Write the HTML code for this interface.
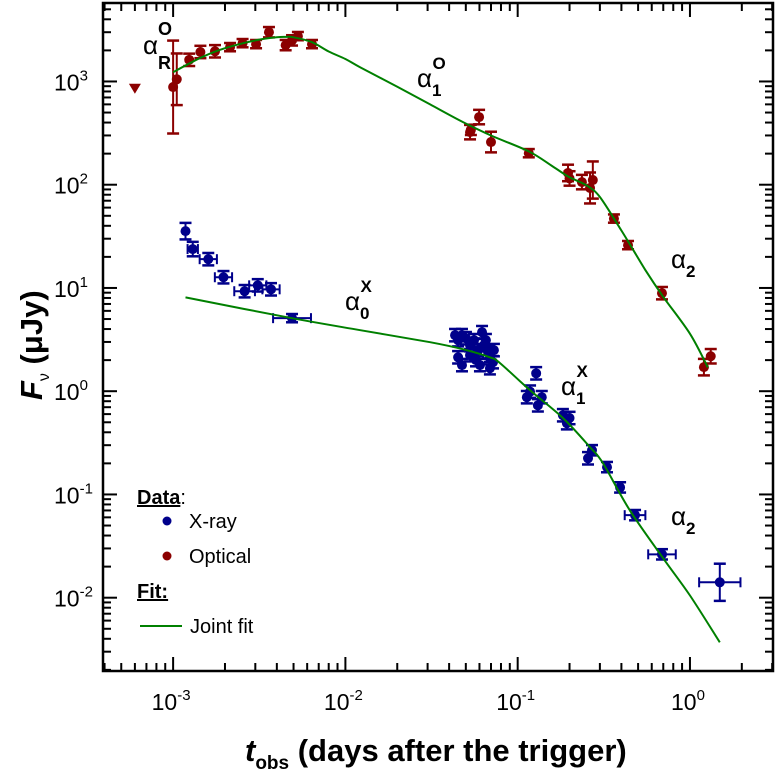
<!DOCTYPE html>
<html><head><meta charset="utf-8">
<style>
html,body{margin:0;padding:0;background:#fff;}
svg{display:block;font-family:"Liberation Sans",Arial,sans-serif;}
.nar{font-family:"Liberation Sans Narrow","Liberation Sans",Arial,sans-serif;}
</style></head>
<body>
<svg id="chart" width="775" height="778" viewBox="0 0 775 778" xmlns="http://www.w3.org/2000/svg"></svg>
<script>
// ---- data ----
const optT = [0.0010,0.00105,0.00124,0.00144,0.00175,0.00214,0.00253,0.00303,0.0036,0.0045,0.0049,0.0053,0.0064,0.0529,0.0535,0.0597,0.0700,0.116,0.196,0.200,0.236,0.273,0.263,0.362,0.437,0.688,1.205,1.32];
const optF = [883,1050,1620,1930,1960,2150,2350,2300,3000,2250,2500,2750,2300,323,340,452,259,202,130,115,106,111,93,47,26,8.9,1.71,2.18];
const optErr = [0.45,0.25,0.06,0.06,0.06,0.04,0.04,0.04,0.05,0.05,0.05,0.04,0.04,0.07,0.05,0.07,0.1,0.04,0.08,0.07,0.07,0.18,0.15,0.04,0.04,0.06,0.08,0.07];
const optLimitT = [0.0006];
const optLimitF = [850];
const xrT = [0.00118,0.0013,0.0016,0.00196,0.0026,0.0031,0.0037,0.0049,
 0.0433,0.0451,0.0475,0.0501,0.0529,0.0558,0.0589,0.0621,0.0637,0.0673,0.069,0.0719,0.0451,0.0475,0.0529,0.0573,0.0654,0.0728,0.0604,0.069,
 0.118,0.113,0.128,0.131,0.138,0.183,0.193,0.200,0.256,0.270,0.330,0.393,0.48,0.688,1.49];
const xrF = [35.5,23.8,19,12.7,9.3,10.6,9.7,5.1,
 3.49,3.12,3.49,3.26,2.79,3.12,2.50,3.73,2.79,2.39,2.09,1.91,2.13,1.79,2.23,2.00,3.12,2.50,1.79,1.67,
 0.99,0.875,1.49,0.73,0.875,0.585,0.49,0.55,0.224,0.268,0.184,0.117,0.063,0.0263,0.0141];
const xrErrY = [0.08,0.07,0.06,0.06,0.06,0.06,0.06,0.04,
 0.06,0.06,0.06,0.06,0.06,0.06,0.06,0.06,0.06,0.06,0.06,0.06,0.06,0.06,0.06,0.06,0.06,0.06,0.06,0.06,
 0.06,0.06,0.06,0.06,0.06,0.06,0.06,0.06,0.06,0.05,0.05,0.05,0.05,0.05,0.18];
const xrErrX = [0,0.03,0.05,0.05,0.06,0.05,0.05,0.11,
 0,0,0,0,0,0,0,0,0,0,0,0,0,0,0,0,0,0,0,0,
 0,0,0,0,0,0,0,0,0,0,0,0,0.06,0.08,0.12];
const fitOptT = [0.0010,0.0012,0.0015,0.002,0.003,0.004,0.0045,0.005,0.0064,0.008,0.010,0.0122,0.02,0.031,0.048,0.070,0.116,0.160,0.200,0.250,0.300,0.400,0.550,0.700,1.0,1.27];
const fitOptF = [1230,1450,1750,2100,2500,2680,2700,2680,2400,1950,1650,1370,890,600,405,300,210,150,118,99,76,36,15,8.2,3.6,1.7];
const fitXT = [0.00118,0.0049,0.0122,0.031,0.048,0.069,0.079,0.118,0.183,0.263,0.313,0.448,0.70,1.0,1.49];
const fitXF = [8.1,5.1,3.9,2.98,2.55,2.13,1.87,1.02,0.55,0.287,0.2,0.07,0.024,0.0105,0.0037];
const xTickExp = [-3,-2,-1,0];
const yTickExp = [-2,-1,0,1,2,3];

// ---- axes ----
const L=103,R=773,T=3,B=671;
const xMin=-3.407,xMax=0.482,yMin=-2.71,yMax=3.76;
const X=t=>L+(Math.log10(t)-xMin)/(xMax-xMin)*(R-L);
const Y=f=>B-(Math.log10(f)-yMin)/(yMax-yMin)*(B-T);
const NS="http://www.w3.org/2000/svg";
const svg=document.getElementById('chart');
function mk(tag,attrs,parent){const e=document.createElementNS(NS,tag);for(const k in attrs)e.setAttribute(k,attrs[k]);(parent||svg).appendChild(e);return e;}

const OC="#8b0000", XC="#00008b", GC="#008000";

const gOpt=mk('g',{});


optT.forEach((t,i)=>{
  const x=X(t),y=Y(optF[i]);
  const y1=Y(optF[i]*Math.pow(10,optErr[i])),y2=Y(optF[i]/Math.pow(10,optErr[i]));
  mk('line',{x1:x,x2:x,y1:y1,y2:y2,stroke:OC,'stroke-width':2},gOpt);
  mk('line',{x1:x-6,x2:x+6,y1:y1,y2:y1,stroke:OC,'stroke-width':2.5},gOpt);
  mk('line',{x1:x-6,x2:x+6,y1:y2,y2:y2,stroke:OC,'stroke-width':2.5},gOpt);
  const c=mk('circle',{cx:x,cy:y,r:5,fill:OC},gOpt);
  
  
});
optLimitT.forEach((t,i)=>{
  const x=X(t),y=Y(optLimitF[i]);
  const p=mk('polygon',{points:`${x-6},${y-5} ${x+6},${y-5} ${x},${y+5}`,fill:OC});
  
  
});
const gX=mk('g',{});


xrT.forEach((t,i)=>{
  const x=X(t),y=Y(xrF[i]);
  const y1=Y(xrF[i]*Math.pow(10,xrErrY[i])),y2=Y(xrF[i]/Math.pow(10,xrErrY[i]));
  mk('line',{x1:x,x2:x,y1:y1,y2:y2,stroke:XC,'stroke-width':2},gX);
  mk('line',{x1:x-6,x2:x+6,y1:y1,y2:y1,stroke:XC,'stroke-width':2.5},gX);
  mk('line',{x1:x-6,x2:x+6,y1:y2,y2:y2,stroke:XC,'stroke-width':2.5},gX);
  if(xrErrX[i]>0){
    const xa=X(t/Math.pow(10,xrErrX[i])),xb=X(t*Math.pow(10,xrErrX[i]));
    mk('line',{x1:xa,x2:xb,y1:y,y2:y,stroke:XC,'stroke-width':2},gX);
    mk('line',{x1:xa,x2:xa,y1:y-5,y2:y+5,stroke:XC,'stroke-width':2},gX);
    mk('line',{x1:xb,x2:xb,y1:y-5,y2:y+5,stroke:XC,'stroke-width':2},gX);
  }
  const c=mk('circle',{cx:x,cy:y,r:5,fill:XC},gX);
  
  
});
function smooth(ts,fs){
  const p=ts.map((t,i)=>[X(t),Y(fs[i])]);
  let d='M'+p[0][0].toFixed(1)+','+p[0][1].toFixed(1);
  for(let i=0;i<p.length-1;i++){
    const p0=p[Math.max(0,i-1)],p1=p[i],p2=p[i+1],p3=p[Math.min(p.length-1,i+2)];
    const c1=[p1[0]+(p2[0]-p0[0])/6,p1[1]+(p2[1]-p0[1])/6];
    const c2=[p2[0]-(p3[0]-p1[0])/6,p2[1]-(p3[1]-p1[1])/6];
    d+=` C${c1[0].toFixed(1)},${c1[1].toFixed(1)} ${c2[0].toFixed(1)},${c2[1].toFixed(1)} ${p2[0].toFixed(1)},${p2[1].toFixed(1)}`;
  }
  return d;
}
const f1=mk('path',{d:smooth(fitOptT,fitOptF),fill:'none',stroke:GC,'stroke-width':2,'stroke-linejoin':'round'});


const f2=mk('path',{d:smooth(fitXT,fitXF),fill:'none',stroke:GC,'stroke-width':2,'stroke-linejoin':'round'});



const fr=mk('rect',{x:L,y:T,width:R-L,height:B-T,fill:'none',stroke:'#000','stroke-width':2.5});


const gT=mk('g',{stroke:'#000','stroke-width':2});


for(let e=-4;e<=1;e++)for(let m=1;m<10;m++){
  const v=m*Math.pow(10,e),lg=Math.log10(v);
  if(lg>=xMin&&lg<=xMax){const x=X(v),len=m==1?14:8;
    mk('line',{x1:x,x2:x,y1:B,y2:B-len},gT);mk('line',{x1:x,x2:x,y1:T,y2:T+len},gT);}
}
for(let e=-3;e<=4;e++)for(let m=1;m<10;m++){
  const v=m*Math.pow(10,e),lg=Math.log10(v);
  if(lg>=yMin&&lg<=yMax){const y=Y(v),len=m==1?14:8;
    mk('line',{x1:L,x2:L+len,y1:y,y2:y},gT);mk('line',{x1:R,x2:R-len,y1:y,y2:y},gT);}
}
xTickExp.forEach(e=>{
  const t=mk('text',{x:X(Math.pow(10,e))-2,y:710,'font-size':23,'text-anchor':'middle','class':'nar'});
  
  
  t.innerHTML=`10<tspan font-size="15" dy="-10">${e<0?'-'+(-e):e}</tspan>`;
});
yTickExp.forEach(e=>{
  const t=mk('text',{x:54,y:Y(Math.pow(10,e))+9,'font-size':23,'class':'nar'});
  
  
  t.innerHTML=`10<tspan font-size="15" dy="-10">${e<0?'-'+(-e):e}</tspan>`;
});
</script>
<svg style="position:absolute;left:0;top:0" width="775" height="778">
  <g font-family="Liberation Sans, Arial, sans-serif" fill="#000">
    <text class="nar" x="245" y="761" font-size="31" font-weight="bold"><tspan font-style="italic">t</tspan><tspan font-size="19" dy="8">obs</tspan><tspan dy="-8"> (days after the trigger)</tspan></text>
    <text class="nar" transform="translate(42,400) rotate(-90)" font-size="31" font-weight="bold"><tspan font-style="italic">F</tspan><tspan font-size="16" font-weight="normal" dy="7">ν</tspan><tspan dy="-7"> (μJy)</tspan></text>
    <text x="143" y="54" font-size="26">α<tspan font-size="18" font-weight="bold" dx="0" dy="15">R</tspan><tspan font-size="18" font-weight="bold" dx="-13" dy="-34">O</tspan></text>
    <text x="417" y="87" font-size="26">α<tspan font-size="17" font-weight="bold" dy="9">1</tspan><tspan font-size="17" font-weight="bold" dx="-9" dy="-27">O</tspan></text>
    <text x="345" y="310" font-size="26">α<tspan font-size="17" font-weight="bold" dy="9">0</tspan><tspan font-size="17" font-weight="bold" dx="-9" dy="-27">X</tspan></text>
    <text x="561" y="395" font-size="26">α<tspan font-size="17" font-weight="bold" dy="9">1</tspan><tspan font-size="17" font-weight="bold" dx="-9" dy="-27">X</tspan></text>
    <text x="671" y="268" font-size="26">α<tspan font-size="17" font-weight="bold" dy="9">2</tspan></text>
    <text x="671" y="525" font-size="26">α<tspan font-size="17" font-weight="bold" dy="9">2</tspan></text>
    <g>
      <text x="137" y="504" font-size="20"><tspan font-weight="bold" text-decoration="underline">Data</tspan>:</text>
      <circle cx="167" cy="521" r="4.5" fill="#00008b"/>
      <text x="189" y="528" font-size="20">X-ray</text>
      <circle cx="167" cy="556" r="4.5" fill="#8b0000"/>
      <text x="189" y="563" font-size="20">Optical</text>
      <text x="137" y="598" font-size="20" font-weight="bold" text-decoration="underline">Fit:</text>
      <line x1="140" x2="182" y1="626" y2="626" stroke="#008000" stroke-width="2"/>
      <text x="190" y="633" font-size="20">Joint fit</text>
    </g>
  </g>
</svg>
</body></html>
